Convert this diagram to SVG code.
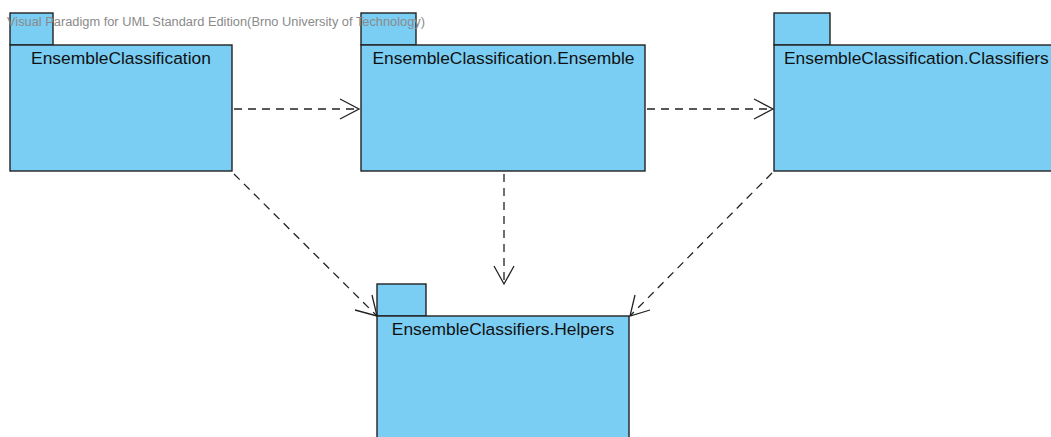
<svg xmlns="http://www.w3.org/2000/svg" width="1051" height="437" viewBox="0 0 1051 437">
<style>
.pkg{fill:#7ACEF4;stroke:#222;stroke-width:1.4}
.lbl{font-family:"Liberation Sans",Arial,sans-serif;font-size:17.4px;fill:#111}
.dep{fill:none;stroke:#222;stroke-width:1.3;stroke-dasharray:8,6}
.head{fill:none;stroke:#222;stroke-width:1.3}
.wm{font-family:"Liberation Sans",Arial,sans-serif;font-size:12.5px;fill:#8a8a8a}
</style>
<rect width="1051" height="437" fill="#fff"/>
<g id="node-ensembleclassification">
<rect class="pkg" x="10" y="13" width="43" height="32"/>
<rect class="pkg" x="10" y="45" width="222" height="126"/>
<text class="lbl" x="121" y="64" text-anchor="middle">EnsembleClassification</text>
</g>
<g id="node-ensemble">
<rect class="pkg" x="361" y="13" width="55" height="32"/>
<rect class="pkg" x="361" y="45" width="284" height="126"/>
<text class="lbl" x="503.5" y="64" text-anchor="middle">EnsembleClassification.Ensemble</text>
</g>
<g id="node-classifiers">
<rect class="pkg" x="774" y="13" width="56" height="32"/>
<rect class="pkg" x="774" y="45" width="286" height="126"/>
<text class="lbl" x="784" y="64">EnsembleClassification.Classifiers</text>
</g>
<g id="node-helpers">
<rect class="pkg" x="377" y="284" width="49" height="32"/>
<rect class="pkg" x="377" y="316" width="252" height="130"/>
<text class="lbl" x="503" y="335" text-anchor="middle">EnsembleClassifiers.Helpers</text>
</g>
<g id="connectors">
<line class="dep" x1="234" y1="109" x2="358" y2="109"/>
<polyline class="head" points="340,99 359,109 340,119"/>
<line class="dep" x1="647" y1="109" x2="772" y2="109"/>
<polyline class="head" points="754,99 773,109 754,119"/>
<line class="dep" x1="504" y1="174" x2="504" y2="283"/>
<polyline class="head" points="494,266 504,284 514,266"/>
<line class="dep" x1="234" y1="174" x2="376" y2="315"/>
<polyline class="head" points="355,310 377,316 372,295"/>
<line class="dep" x1="772" y1="173" x2="631" y2="315"/>
<polyline class="head" points="635,295 630,316 650,310"/>
</g>
<text class="wm" x="7" y="26" textLength="418" lengthAdjust="spacingAndGlyphs">Visual Paradigm for UML Standard Edition(Brno University of Technology)</text>
</svg>
